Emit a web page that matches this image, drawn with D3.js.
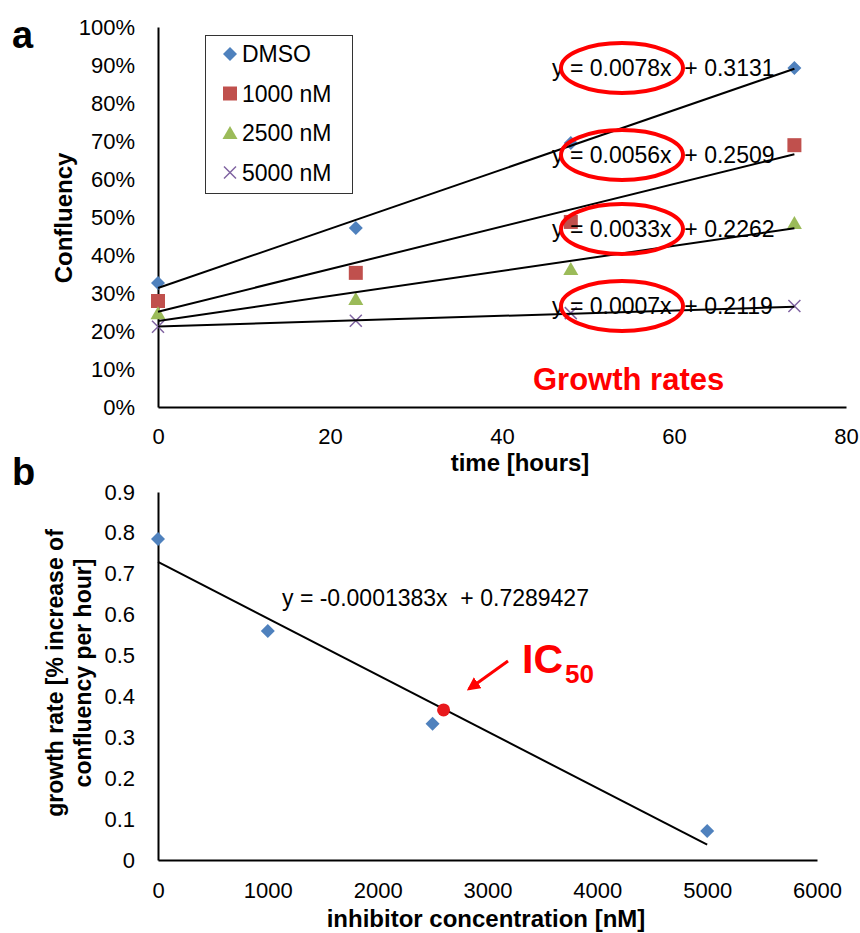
<!DOCTYPE html>
<head>
<style type="text/css">
    body {
      font-family: "Liberation Sans", Arial, sans-serif;
      margin: 0;
      background: #fff;
    }
    text { font-family: "Liberation Sans", Arial, sans-serif; }
</style>
</head>
<script src="https://d3js.org/d3.v7.min.js"></script>
<body>
    <svg width="860" height="933"></svg>
    <script>
        // panel a: confluency over time
        var hours = [0, 23, 48, 74];
        var seriesNames = ["DMSO", "1000 nM", "2500 nM", "5000 nM"];
        var dmso = [0.326, 0.471, 0.695, 0.892];
        var nM1000 = [0.279, 0.353, 0.487, 0.689];
        var nM2500 = [0.247, 0.284, 0.363, 0.484];
        var nM5000 = [0.211, 0.227, 0.247, 0.266];
        var slopes = [0.0078, 0.0056, 0.0033, 0.0007];
        var intercepts = [0.3131, 0.2509, 0.2262, 0.2119];
        var confTicks = [0, 0.1, 0.2, 0.3, 0.4, 0.5, 0.6, 0.7, 0.8, 0.9, 1];
        var timeTicks = [0, 20, 40, 60, 80];

        // panel b: growth rate vs inhibitor
        var concentrations = [0, 1000, 2500, 5000];
        var growthRates = [0.785, 0.56, 0.333, 0.071];
        var fitSlope = -0.0001383, fitIntercept = 0.7289427;
        var ic50 = [2600, 0.367];
        var rateTicks = [0, 0.1, 0.2, 0.3, 0.4, 0.5, 0.6, 0.7, 0.8, 0.9];
        var concTicks = [0, 1000, 2000, 3000, 4000, 5000, 6000];

        var colors = ["#4f81bd", "#c0504d", "#9bbb59", "#8064a2"];
        var shapes = ["diamond", "square", "triangle", "cross"];

        var svg = d3.select("svg");

        function shapePath(s) {
            if (s == "diamond") return "M0,-7L7,0L0,7L-7,0Z";
            if (s == "square") return "M-7,-7h14v14h-14Z";
            if (s == "triangle") return "M0,-7L7.5,6L-7.5,6Z";
            return "M-6,-6L6,6M6,-6L-6,6";
        }
        function drawMarker(g, s, c, x, y) {
            var p = g.append("path")
                .attr("d", shapePath(s))
                .attr("transform", "translate(" + x + "," + y + ")");
            if (s == "cross") p.attr("fill", "none").attr("stroke", c).attr("stroke-width", 1.5);
            else p.attr("fill", c);
        }
        function styleAxis(g) {
            g.select(".domain").attr("stroke", "#000").attr("stroke-width", 2);
            g.selectAll(".tick line").remove();
            g.selectAll("text").attr("font-size", 22).attr("fill", "#000")
                .style("font-family", "'Liberation Sans', Arial, sans-serif");
        }

        // ---------- panel a ----------
        var xA = d3.scaleLinear().domain([0, 80]).range([158, 846]);
        var yA = d3.scaleLinear().domain([0, 1]).range([407, 27]);

        var ga = svg.append("g");

        ga.append("g")
            .attr("transform", "translate(" + xA(0) + ",0)")
            .call(d3.axisLeft(yA).tickValues(confTicks).tickSize(0).tickPadding(23).tickFormat(d3.format(".0%")))
            .call(styleAxis);
        ga.append("g")
            .attr("transform", "translate(0," + yA(0) + ")")
            .call(d3.axisBottom(xA).tickValues(timeTicks).tickSize(0).tickPadding(21).tickFormat(d3.format("d")))
            .call(styleAxis);

        var series = [dmso, nM1000, nM2500, nM5000];
        series.forEach(function(vals, i) {
            vals.forEach(function(v, j) {
                drawMarker(ga, shapes[i], colors[i], xA(hours[j]), yA(v));
            });
        });

        // trendline equations
        var eqBase = [76, 163, 237, 314];
        slopes.forEach(function(s, i) {
            ga.append("text")
                .attr("x", 552)
                .attr("y", eqBase[i])
                .attr("font-size", 23)
                .style("white-space", "pre")
                .text("y = " + s.toFixed(4) + "x  + " + intercepts[i].toFixed(4));
        });

        // trendlines
        var tEnd = d3.max(hours);
        slopes.forEach(function(s, i) {
            ga.append("line")
                .attr("x1", xA(0)).attr("y1", yA(intercepts[i]))
                .attr("x2", xA(tEnd)).attr("y2", yA(intercepts[i] + s * tEnd))
                .attr("stroke", "#000").attr("stroke-width", 2);
        });

        // red circles round the slopes
        eqBase.forEach(function(b) {
            ga.append("ellipse")
                .attr("cx", 622).attr("cy", b - 8)
                .attr("rx", 61).attr("ry", 25)
                .attr("fill", "none")
                .attr("stroke", "#ff0000")
                .attr("stroke-width", 4);
        });

        ga.append("text")
            .attr("x", 533).attr("y", 390)
            .attr("font-size", 31).attr("font-weight", "bold")
            .attr("fill", "#ff0000")
            .text("Growth rates");

        // legend
        var leg = ga.append("g");
        leg.append("rect")
            .attr("x", 205.5).attr("y", 35.5)
            .attr("width", 147).attr("height", 158)
            .attr("fill", "#fff").attr("stroke", "#333").attr("stroke-width", 1);
        seriesNames.forEach(function(n, i) {
            var yy = 54 + i * 39.5;
            drawMarker(leg, shapes[i], colors[i], 230, yy);
            leg.append("text")
                .attr("x", 242).attr("y", yy + 8)
                .attr("font-size", 23)
                .text(n);
        });

        ga.append("text")
            .attr("transform", "translate(72,218) rotate(-90)")
            .attr("text-anchor", "middle")
            .attr("font-size", 24).attr("font-weight", "bold")
            .text("Confluency");
        ga.append("text")
            .attr("x", 520).attr("y", 471)
            .attr("text-anchor", "middle")
            .attr("font-size", 24).attr("font-weight", "bold")
            .text("time [hours]");

        // ---------- panel b ----------
        var xB = d3.scaleLinear().domain([0, 6000]).range([158, 817]);
        var yB = d3.scaleLinear().domain([0, 0.9]).range([860, 492]);

        var gb = svg.append("g");

        gb.append("g")
            .attr("transform", "translate(" + xB(0) + ",0)")
            .call(d3.axisLeft(yB).tickValues(rateTicks).tickSize(0).tickPadding(23).tickFormat(function(d) { return d == 0 ? "0" : d3.format(".1f")(d); }))
            .call(styleAxis);
        gb.append("g")
            .attr("transform", "translate(0," + yB(0) + ")")
            .call(d3.axisBottom(xB).tickValues(concTicks).tickSize(0).tickPadding(22).tickFormat(d3.format("d")))
            .call(styleAxis);

        concentrations.forEach(function(c, i) {
            drawMarker(gb, "diamond", colors[0], xB(c), yB(growthRates[i]));
        });

        var cEnd = d3.max(concentrations);
        gb.append("line")
            .attr("x1", xB(0)).attr("y1", yB(fitIntercept))
            .attr("x2", xB(cEnd)).attr("y2", yB(fitIntercept + fitSlope * cEnd))
            .attr("stroke", "#000").attr("stroke-width", 2);

        gb.append("text")
            .attr("x", 282).attr("y", 606)
            .attr("font-size", 23)
            .style("white-space", "pre")
            .text("y = " + fitSlope.toFixed(7) + "x  + " + fitIntercept.toFixed(7));

        gb.append("circle")
            .attr("cx", xB(ic50[0])).attr("cy", yB(ic50[1]))
            .attr("r", 6.5).attr("fill", "#e8191d");

        // IC50 arrow
        svg.append("defs").append("marker")
            .attr("id", "arr")
            .attr("viewBox", "0 0 10 10")
            .attr("refX", 8).attr("refY", 5)
            .attr("markerWidth", 4.5).attr("markerHeight", 4.5)
            .attr("orient", "auto")
            .append("path").attr("d", "M0,0L10,5L0,10Z").attr("fill", "#ff0000");
        gb.append("line")
            .attr("x1", 508).attr("y1", 661)
            .attr("x2", 469).attr("y2", 689)
            .attr("stroke", "#ff0000").attr("stroke-width", 3)
            .attr("marker-end", "url(#arr)");

        var ic = gb.append("text")
            .attr("x", 522).attr("y", 673)
            .attr("font-weight", "bold").attr("fill", "#ff0000");
        ic.append("tspan").attr("font-size", 41).text("IC");
        ic.append("tspan").attr("font-size", 26).attr("dx", 2).attr("dy", 10).text("50");

        gb.append("text")
            .attr("transform", "translate(63,673) rotate(-90)")
            .attr("text-anchor", "middle")
            .attr("font-size", 23).attr("font-weight", "bold")
            .text("growth rate [% increase of");
        gb.append("text")
            .attr("transform", "translate(91,673) rotate(-90)")
            .attr("text-anchor", "middle")
            .attr("font-size", 23).attr("font-weight", "bold")
            .text("confluency per hour]");
        gb.append("text")
            .attr("x", 486).attr("y", 927)
            .attr("text-anchor", "middle")
            .attr("font-size", 24).attr("font-weight", "bold")
            .text("inhibitor concentration [nM]");

        // panel letters
        svg.append("text").attr("x", 12).attr("y", 48)
            .attr("font-size", 38).attr("font-weight", "bold").text("a");
        svg.append("text").attr("x", 12).attr("y", 485)
            .attr("font-size", 38).attr("font-weight", "bold").text("b");
    </script>
</body>
